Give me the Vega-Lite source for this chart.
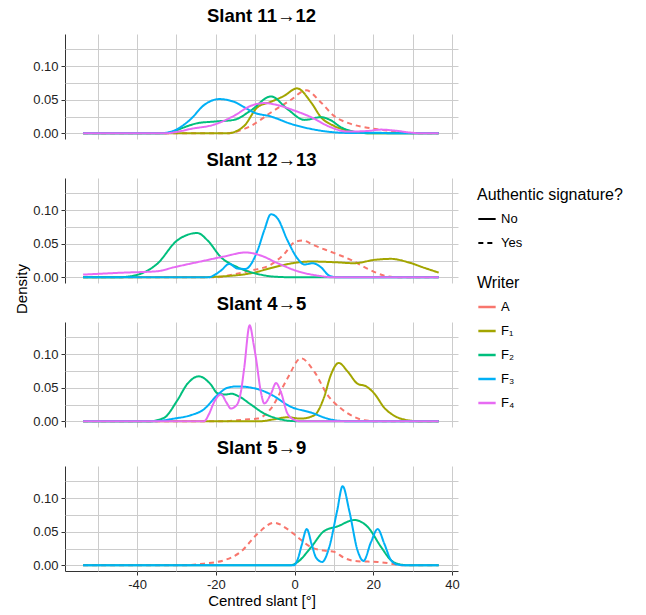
{
  "$schema": "https://vega.github.io/schema/vega-lite/v6.json",
  "padding": {"left": 14, "top": 6, "right": 5, "bottom": 2},
  "background": "white",
  "data": {"values": [
    {"panel":"Slant 11→12","writer":"A","auth":"Yes","slant":-53.7,"density":0},
    {"panel":"Slant 11→12","writer":"A","auth":"Yes","slant":-17,"density":0},
    {"panel":"Slant 11→12","writer":"A","auth":"Yes","slant":-14,"density":0.004},
    {"panel":"Slant 11→12","writer":"A","auth":"Yes","slant":-11.1,"density":0.011},
    {"panel":"Slant 11→12","writer":"A","auth":"Yes","slant":-6,"density":0.031},
    {"panel":"Slant 11→12","writer":"A","auth":"Yes","slant":-0.9,"density":0.05},
    {"panel":"Slant 11→12","writer":"A","auth":"Yes","slant":2.9,"density":0.064},
    {"panel":"Slant 11→12","writer":"A","auth":"Yes","slant":6.7,"density":0.046},
    {"panel":"Slant 11→12","writer":"A","auth":"Yes","slant":10,"density":0.026},
    {"panel":"Slant 11→12","writer":"A","auth":"Yes","slant":14.3,"density":0.014},
    {"panel":"Slant 11→12","writer":"A","auth":"Yes","slant":19.4,"density":0.0075},
    {"panel":"Slant 11→12","writer":"A","auth":"Yes","slant":23.7,"density":0.004},
    {"panel":"Slant 11→12","writer":"A","auth":"Yes","slant":28.8,"density":0.0005},
    {"panel":"Slant 11→12","writer":"A","auth":"Yes","slant":31,"density":0},
    {"panel":"Slant 11→12","writer":"A","auth":"Yes","slant":36.6,"density":0},

    {"panel":"Slant 11→12","writer":"F₁","auth":"No","slant":-53.7,"density":0},
    {"panel":"Slant 11→12","writer":"F₁","auth":"No","slant":-17,"density":0},
    {"panel":"Slant 11→12","writer":"F₁","auth":"No","slant":-14.5,"density":0.004},
    {"panel":"Slant 11→12","writer":"F₁","auth":"No","slant":-12.8,"density":0.011},
    {"panel":"Slant 11→12","writer":"F₁","auth":"No","slant":-9.4,"density":0.039},
    {"panel":"Slant 11→12","writer":"F₁","auth":"No","slant":-6,"density":0.047},
    {"panel":"Slant 11→12","writer":"F₁","auth":"No","slant":-2.6,"density":0.056},
    {"panel":"Slant 11→12","writer":"F₁","auth":"No","slant":0.6,"density":0.067},
    {"panel":"Slant 11→12","writer":"F₁","auth":"No","slant":4.2,"density":0.046},
    {"panel":"Slant 11→12","writer":"F₁","auth":"No","slant":6.7,"density":0.024},
    {"panel":"Slant 11→12","writer":"F₁","auth":"No","slant":10,"density":0.011},
    {"panel":"Slant 11→12","writer":"F₁","auth":"No","slant":13.5,"density":0.004},
    {"panel":"Slant 11→12","writer":"F₁","auth":"No","slant":17.7,"density":0.0005},
    {"panel":"Slant 11→12","writer":"F₁","auth":"No","slant":20,"density":0},
    {"panel":"Slant 11→12","writer":"F₁","auth":"No","slant":36.6,"density":0},

    {"panel":"Slant 11→12","writer":"F₂","auth":"No","slant":-53.7,"density":0},
    {"panel":"Slant 11→12","writer":"F₂","auth":"No","slant":-33,"density":0},
    {"panel":"Slant 11→12","writer":"F₂","auth":"No","slant":-30.6,"density":0.003},
    {"panel":"Slant 11→12","writer":"F₂","auth":"No","slant":-28,"density":0.009},
    {"panel":"Slant 11→12","writer":"F₂","auth":"No","slant":-24.7,"density":0.015},
    {"panel":"Slant 11→12","writer":"F₂","auth":"No","slant":-20.4,"density":0.0175},
    {"panel":"Slant 11→12","writer":"F₂","auth":"No","slant":-15.4,"density":0.02},
    {"panel":"Slant 11→12","writer":"F₂","auth":"No","slant":-11.1,"density":0.034},
    {"panel":"Slant 11→12","writer":"F₂","auth":"No","slant":-6,"density":0.055},
    {"panel":"Slant 11→12","writer":"F₂","auth":"No","slant":-1.8,"density":0.036},
    {"panel":"Slant 11→12","writer":"F₂","auth":"No","slant":2.5,"density":0.02},
    {"panel":"Slant 11→12","writer":"F₂","auth":"No","slant":6.7,"density":0.024},
    {"panel":"Slant 11→12","writer":"F₂","auth":"No","slant":9,"density":0.02},
    {"panel":"Slant 11→12","writer":"F₂","auth":"No","slant":11.8,"density":0.009},
    {"panel":"Slant 11→12","writer":"F₂","auth":"No","slant":16,"density":0.0015},
    {"panel":"Slant 11→12","writer":"F₂","auth":"No","slant":19,"density":0},
    {"panel":"Slant 11→12","writer":"F₂","auth":"No","slant":36.6,"density":0},

    {"panel":"Slant 11→12","writer":"F₃","auth":"No","slant":-53.7,"density":0},
    {"panel":"Slant 11→12","writer":"F₃","auth":"No","slant":-34,"density":0},
    {"panel":"Slant 11→12","writer":"F₃","auth":"No","slant":-30.6,"density":0.004},
    {"panel":"Slant 11→12","writer":"F₃","auth":"No","slant":-26.4,"density":0.021},
    {"panel":"Slant 11→12","writer":"F₃","auth":"No","slant":-23,"density":0.042},
    {"panel":"Slant 11→12","writer":"F₃","auth":"No","slant":-19.2,"density":0.051},
    {"panel":"Slant 11→12","writer":"F₃","auth":"No","slant":-15.4,"density":0.047},
    {"panel":"Slant 11→12","writer":"F₃","auth":"No","slant":-12.8,"density":0.039},
    {"panel":"Slant 11→12","writer":"F₃","auth":"No","slant":-10.3,"density":0.031},
    {"panel":"Slant 11→12","writer":"F₃","auth":"No","slant":-6,"density":0.025},
    {"panel":"Slant 11→12","writer":"F₃","auth":"No","slant":-0.9,"density":0.014},
    {"panel":"Slant 11→12","writer":"F₃","auth":"No","slant":4.2,"density":0.0065},
    {"panel":"Slant 11→12","writer":"F₃","auth":"No","slant":10,"density":0.0015},
    {"panel":"Slant 11→12","writer":"F₃","auth":"No","slant":14,"density":0.0005},
    {"panel":"Slant 11→12","writer":"F₃","auth":"No","slant":20,"density":0.001},
    {"panel":"Slant 11→12","writer":"F₃","auth":"No","slant":25,"density":0},
    {"panel":"Slant 11→12","writer":"F₃","auth":"No","slant":36.6,"density":0},

    {"panel":"Slant 11→12","writer":"F₄","auth":"No","slant":-53.7,"density":0},
    {"panel":"Slant 11→12","writer":"F₄","auth":"No","slant":-33,"density":0},
    {"panel":"Slant 11→12","writer":"F₄","auth":"No","slant":-30,"density":0.002},
    {"panel":"Slant 11→12","writer":"F₄","auth":"No","slant":-26.4,"density":0.0065},
    {"panel":"Slant 11→12","writer":"F₄","auth":"No","slant":-20.4,"density":0.013},
    {"panel":"Slant 11→12","writer":"F₄","auth":"No","slant":-15.4,"density":0.026},
    {"panel":"Slant 11→12","writer":"F₄","auth":"No","slant":-11.1,"density":0.041},
    {"panel":"Slant 11→12","writer":"F₄","auth":"No","slant":-7.7,"density":0.045},
    {"panel":"Slant 11→12","writer":"F₄","auth":"No","slant":-4.3,"density":0.042},
    {"panel":"Slant 11→12","writer":"F₄","auth":"No","slant":-0.1,"density":0.034},
    {"panel":"Slant 11→12","writer":"F₄","auth":"No","slant":4.2,"density":0.024},
    {"panel":"Slant 11→12","writer":"F₄","auth":"No","slant":9.2,"density":0.009},
    {"panel":"Slant 11→12","writer":"F₄","auth":"No","slant":13.5,"density":0.0025},
    {"panel":"Slant 11→12","writer":"F₄","auth":"No","slant":18.6,"density":0.0035},
    {"panel":"Slant 11→12","writer":"F₄","auth":"No","slant":22,"density":0.0055},
    {"panel":"Slant 11→12","writer":"F₄","auth":"No","slant":25.4,"density":0.004},
    {"panel":"Slant 11→12","writer":"F₄","auth":"No","slant":29.6,"density":0.001},
    {"panel":"Slant 11→12","writer":"F₄","auth":"No","slant":32,"density":0},
    {"panel":"Slant 11→12","writer":"F₄","auth":"No","slant":36.6,"density":0},

    {"panel":"Slant 12→13","writer":"A","auth":"Yes","slant":-53.7,"density":0},
    {"panel":"Slant 12→13","writer":"A","auth":"Yes","slant":-20,"density":0},
    {"panel":"Slant 12→13","writer":"A","auth":"Yes","slant":-16.2,"density":0.0035},
    {"panel":"Slant 12→13","writer":"A","auth":"Yes","slant":-11.1,"density":0.01},
    {"panel":"Slant 12→13","writer":"A","auth":"Yes","slant":-6,"density":0.019},
    {"panel":"Slant 12→13","writer":"A","auth":"Yes","slant":-2.6,"density":0.035},
    {"panel":"Slant 12→13","writer":"A","auth":"Yes","slant":0,"density":0.0525},
    {"panel":"Slant 12→13","writer":"A","auth":"Yes","slant":2,"density":0.055},
    {"panel":"Slant 12→13","writer":"A","auth":"Yes","slant":5,"density":0.0475},
    {"panel":"Slant 12→13","writer":"A","auth":"Yes","slant":10.1,"density":0.036},
    {"panel":"Slant 12→13","writer":"A","auth":"Yes","slant":14.3,"density":0.026},
    {"panel":"Slant 12→13","writer":"A","auth":"Yes","slant":18.6,"density":0.0125},
    {"panel":"Slant 12→13","writer":"A","auth":"Yes","slant":22.8,"density":0.0025},
    {"panel":"Slant 12→13","writer":"A","auth":"Yes","slant":26.2,"density":0},
    {"panel":"Slant 12→13","writer":"A","auth":"Yes","slant":36.6,"density":0},

    {"panel":"Slant 12→13","writer":"F₁","auth":"No","slant":-53.7,"density":0},
    {"panel":"Slant 12→13","writer":"F₁","auth":"No","slant":-25,"density":0},
    {"panel":"Slant 12→13","writer":"F₁","auth":"No","slant":-17.9,"density":0.0015},
    {"panel":"Slant 12→13","writer":"F₁","auth":"No","slant":-11.1,"density":0.006},
    {"panel":"Slant 12→13","writer":"F₁","auth":"No","slant":-5.2,"density":0.015},
    {"panel":"Slant 12→13","writer":"F₁","auth":"No","slant":0,"density":0.0215},
    {"panel":"Slant 12→13","writer":"F₁","auth":"No","slant":4.2,"density":0.0235},
    {"panel":"Slant 12→13","writer":"F₁","auth":"No","slant":10.1,"density":0.0225},
    {"panel":"Slant 12→13","writer":"F₁","auth":"No","slant":15.2,"density":0.021},
    {"panel":"Slant 12→13","writer":"F₁","auth":"No","slant":20.3,"density":0.026},
    {"panel":"Slant 12→13","writer":"F₁","auth":"No","slant":24.5,"density":0.0275},
    {"panel":"Slant 12→13","writer":"F₁","auth":"No","slant":28.8,"density":0.0225},
    {"panel":"Slant 12→13","writer":"F₁","auth":"No","slant":33,"density":0.014},
    {"panel":"Slant 12→13","writer":"F₁","auth":"No","slant":36.6,"density":0.007},

    {"panel":"Slant 12→13","writer":"F₂","auth":"No","slant":-53.7,"density":0},
    {"panel":"Slant 12→13","writer":"F₂","auth":"No","slant":-45,"density":0},
    {"panel":"Slant 12→13","writer":"F₂","auth":"No","slant":-40.8,"density":0.0025},
    {"panel":"Slant 12→13","writer":"F₂","auth":"No","slant":-34.9,"density":0.02},
    {"panel":"Slant 12→13","writer":"F₂","auth":"No","slant":-29.8,"density":0.055},
    {"panel":"Slant 12→13","writer":"F₂","auth":"No","slant":-24.7,"density":0.066},
    {"panel":"Slant 12→13","writer":"F₂","auth":"No","slant":-22.1,"density":0.055},
    {"panel":"Slant 12→13","writer":"F₂","auth":"No","slant":-18.7,"density":0.03},
    {"panel":"Slant 12→13","writer":"F₂","auth":"No","slant":-14.5,"density":0.015},
    {"panel":"Slant 12→13","writer":"F₂","auth":"No","slant":-9.4,"density":0.005},
    {"panel":"Slant 12→13","writer":"F₂","auth":"No","slant":-5.2,"density":0.001},
    {"panel":"Slant 12→13","writer":"F₂","auth":"No","slant":0,"density":0},
    {"panel":"Slant 12→13","writer":"F₂","auth":"No","slant":36.6,"density":0},

    {"panel":"Slant 12→13","writer":"F₃","auth":"No","slant":-53.7,"density":0},
    {"panel":"Slant 12→13","writer":"F₃","auth":"No","slant":-22,"density":0},
    {"panel":"Slant 12→13","writer":"F₃","auth":"No","slant":-18.7,"density":0.01},
    {"panel":"Slant 12→13","writer":"F₃","auth":"No","slant":-16.6,"density":0.02},
    {"panel":"Slant 12→13","writer":"F₃","auth":"No","slant":-14.5,"density":0.013},
    {"panel":"Slant 12→13","writer":"F₃","auth":"No","slant":-12.5,"density":0.0125},
    {"panel":"Slant 12→13","writer":"F₃","auth":"No","slant":-9.4,"density":0.04},
    {"panel":"Slant 12→13","writer":"F₃","auth":"No","slant":-7.7,"density":0.07},
    {"panel":"Slant 12→13","writer":"F₃","auth":"No","slant":-6,"density":0.094},
    {"panel":"Slant 12→13","writer":"F₃","auth":"No","slant":-4.3,"density":0.0875},
    {"panel":"Slant 12→13","writer":"F₃","auth":"No","slant":-1.8,"density":0.055},
    {"panel":"Slant 12→13","writer":"F₃","auth":"No","slant":0.8,"density":0.0275},
    {"panel":"Slant 12→13","writer":"F₃","auth":"No","slant":2.5,"density":0.019},
    {"panel":"Slant 12→13","writer":"F₃","auth":"No","slant":4.6,"density":0.021},
    {"panel":"Slant 12→13","writer":"F₃","auth":"No","slant":6.7,"density":0.015},
    {"panel":"Slant 12→13","writer":"F₃","auth":"No","slant":8.8,"density":0.0025},
    {"panel":"Slant 12→13","writer":"F₃","auth":"No","slant":10.9,"density":0},
    {"panel":"Slant 12→13","writer":"F₃","auth":"No","slant":36.6,"density":0},

    {"panel":"Slant 12→13","writer":"F₄","auth":"No","slant":-53.7,"density":0.004},
    {"panel":"Slant 12→13","writer":"F₄","auth":"No","slant":-43.3,"density":0.007},
    {"panel":"Slant 12→13","writer":"F₄","auth":"No","slant":-34.9,"density":0.009},
    {"panel":"Slant 12→13","writer":"F₄","auth":"No","slant":-30.6,"density":0.015},
    {"panel":"Slant 12→13","writer":"F₄","auth":"No","slant":-24.7,"density":0.0225},
    {"panel":"Slant 12→13","writer":"F₄","auth":"No","slant":-17.9,"density":0.031},
    {"panel":"Slant 12→13","writer":"F₄","auth":"No","slant":-12.4,"density":0.037},
    {"panel":"Slant 12→13","writer":"F₄","auth":"No","slant":-8.6,"density":0.0325},
    {"panel":"Slant 12→13","writer":"F₄","auth":"No","slant":-4.3,"density":0.021},
    {"panel":"Slant 12→13","writer":"F₄","auth":"No","slant":0.8,"density":0.009},
    {"panel":"Slant 12→13","writer":"F₄","auth":"No","slant":5.9,"density":0.0025},
    {"panel":"Slant 12→13","writer":"F₄","auth":"No","slant":10,"density":0},
    {"panel":"Slant 12→13","writer":"F₄","auth":"No","slant":36.6,"density":0},

    {"panel":"Slant 4→5","writer":"A","auth":"Yes","slant":-53.7,"density":0},
    {"panel":"Slant 4→5","writer":"A","auth":"Yes","slant":-18,"density":0},
    {"panel":"Slant 4→5","writer":"A","auth":"Yes","slant":-12.8,"density":0.0025},
    {"panel":"Slant 4→5","writer":"A","auth":"Yes","slant":-9.4,"density":0.004},
    {"panel":"Slant 4→5","writer":"A","auth":"Yes","slant":-6,"density":0.019},
    {"panel":"Slant 4→5","writer":"A","auth":"Yes","slant":-1.8,"density":0.064},
    {"panel":"Slant 4→5","writer":"A","auth":"Yes","slant":1.6,"density":0.094},
    {"panel":"Slant 4→5","writer":"A","auth":"Yes","slant":5,"density":0.074},
    {"panel":"Slant 4→5","writer":"A","auth":"Yes","slant":8.4,"density":0.039},
    {"panel":"Slant 4→5","writer":"A","auth":"Yes","slant":11.8,"density":0.019},
    {"panel":"Slant 4→5","writer":"A","auth":"Yes","slant":15.2,"density":0.0065},
    {"panel":"Slant 4→5","writer":"A","auth":"Yes","slant":17.7,"density":0.0015},
    {"panel":"Slant 4→5","writer":"A","auth":"Yes","slant":21,"density":0},
    {"panel":"Slant 4→5","writer":"A","auth":"Yes","slant":36.6,"density":0},

    {"panel":"Slant 4→5","writer":"F₁","auth":"No","slant":-53.7,"density":0},
    {"panel":"Slant 4→5","writer":"F₁","auth":"No","slant":-9,"density":0},
    {"panel":"Slant 4→5","writer":"F₁","auth":"No","slant":-5.2,"density":0.003},
    {"panel":"Slant 4→5","writer":"F₁","auth":"No","slant":-1.8,"density":0.006},
    {"panel":"Slant 4→5","writer":"F₁","auth":"No","slant":1.6,"density":0.004},
    {"panel":"Slant 4→5","writer":"F₁","auth":"No","slant":5,"density":0.009},
    {"panel":"Slant 4→5","writer":"F₁","auth":"No","slant":7.5,"density":0.036},
    {"panel":"Slant 4→5","writer":"F₁","auth":"No","slant":9.2,"density":0.069},
    {"panel":"Slant 4→5","writer":"F₁","auth":"No","slant":11.2,"density":0.087},
    {"panel":"Slant 4→5","writer":"F₁","auth":"No","slant":13.5,"density":0.074},
    {"panel":"Slant 4→5","writer":"F₁","auth":"No","slant":16,"density":0.056},
    {"panel":"Slant 4→5","writer":"F₁","auth":"No","slant":18.2,"density":0.052},
    {"panel":"Slant 4→5","writer":"F₁","auth":"No","slant":20.3,"density":0.041},
    {"panel":"Slant 4→5","writer":"F₁","auth":"No","slant":22.8,"density":0.02},
    {"panel":"Slant 4→5","writer":"F₁","auth":"No","slant":25.4,"density":0.008},
    {"panel":"Slant 4→5","writer":"F₁","auth":"No","slant":28.8,"density":0.0015},
    {"panel":"Slant 4→5","writer":"F₁","auth":"No","slant":32,"density":0},
    {"panel":"Slant 4→5","writer":"F₁","auth":"No","slant":36.6,"density":0},

    {"panel":"Slant 4→5","writer":"F₂","auth":"No","slant":-53.7,"density":0},
    {"panel":"Slant 4→5","writer":"F₂","auth":"No","slant":-37,"density":0},
    {"panel":"Slant 4→5","writer":"F₂","auth":"No","slant":-33.2,"density":0.005},
    {"panel":"Slant 4→5","writer":"F₂","auth":"No","slant":-29.8,"density":0.031},
    {"panel":"Slant 4→5","writer":"F₂","auth":"No","slant":-27.2,"density":0.056},
    {"panel":"Slant 4→5","writer":"F₂","auth":"No","slant":-24.3,"density":0.067},
    {"panel":"Slant 4→5","writer":"F₂","auth":"No","slant":-21.3,"density":0.055},
    {"panel":"Slant 4→5","writer":"F₂","auth":"No","slant":-19.6,"density":0.042},
    {"panel":"Slant 4→5","writer":"F₂","auth":"No","slant":-17.5,"density":0.04},
    {"panel":"Slant 4→5","writer":"F₂","auth":"No","slant":-16,"density":0.041},
    {"panel":"Slant 4→5","writer":"F₂","auth":"No","slant":-14.1,"density":0.037},
    {"panel":"Slant 4→5","writer":"F₂","auth":"No","slant":-11.1,"density":0.025},
    {"panel":"Slant 4→5","writer":"F₂","auth":"No","slant":-7.7,"density":0.0115},
    {"panel":"Slant 4→5","writer":"F₂","auth":"No","slant":-4.3,"density":0.004},
    {"panel":"Slant 4→5","writer":"F₂","auth":"No","slant":-0.9,"density":0.0005},
    {"panel":"Slant 4→5","writer":"F₂","auth":"No","slant":2,"density":0},
    {"panel":"Slant 4→5","writer":"F₂","auth":"No","slant":36.6,"density":0},

    {"panel":"Slant 4→5","writer":"F₃","auth":"No","slant":-53.7,"density":0},
    {"panel":"Slant 4→5","writer":"F₃","auth":"No","slant":-36,"density":0},
    {"panel":"Slant 4→5","writer":"F₃","auth":"No","slant":-30.6,"density":0.004},
    {"panel":"Slant 4→5","writer":"F₃","auth":"No","slant":-26.4,"density":0.009},
    {"panel":"Slant 4→5","writer":"F₃","auth":"No","slant":-23,"density":0.018},
    {"panel":"Slant 4→5","writer":"F₃","auth":"No","slant":-19.6,"density":0.039},
    {"panel":"Slant 4→5","writer":"F₃","auth":"No","slant":-17,"density":0.05},
    {"panel":"Slant 4→5","writer":"F₃","auth":"No","slant":-14.5,"density":0.052},
    {"panel":"Slant 4→5","writer":"F₃","auth":"No","slant":-9.4,"density":0.048},
    {"panel":"Slant 4→5","writer":"F₃","auth":"No","slant":-6,"density":0.04},
    {"panel":"Slant 4→5","writer":"F₃","auth":"No","slant":-0.9,"density":0.0215},
    {"panel":"Slant 4→5","writer":"F₃","auth":"No","slant":4.2,"density":0.013},
    {"panel":"Slant 4→5","writer":"F₃","auth":"No","slant":8.4,"density":0.004},
    {"panel":"Slant 4→5","writer":"F₃","auth":"No","slant":11.8,"density":0.0005},
    {"panel":"Slant 4→5","writer":"F₃","auth":"No","slant":15,"density":0},
    {"panel":"Slant 4→5","writer":"F₃","auth":"No","slant":36.6,"density":0},

    {"panel":"Slant 4→5","writer":"F₄","auth":"No","slant":-53.7,"density":0},
    {"panel":"Slant 4→5","writer":"F₄","auth":"No","slant":-23,"density":0},
    {"panel":"Slant 4→5","writer":"F₄","auth":"No","slant":-21.8,"density":0.01},
    {"panel":"Slant 4→5","writer":"F₄","auth":"No","slant":-20.4,"density":0.029},
    {"panel":"Slant 4→5","writer":"F₄","auth":"No","slant":-18.7,"density":0.04},
    {"panel":"Slant 4→5","writer":"F₄","auth":"No","slant":-17.2,"density":0.027},
    {"panel":"Slant 4→5","writer":"F₄","auth":"No","slant":-16.2,"density":0.019},
    {"panel":"Slant 4→5","writer":"F₄","auth":"No","slant":-14.6,"density":0.025},
    {"panel":"Slant 4→5","writer":"F₄","auth":"No","slant":-13.6,"density":0.045},
    {"panel":"Slant 4→5","writer":"F₄","auth":"No","slant":-12.8,"density":0.079},
    {"panel":"Slant 4→5","writer":"F₄","auth":"No","slant":-11.4,"density":0.143},
    {"panel":"Slant 4→5","writer":"F₄","auth":"No","slant":-10.4,"density":0.115},
    {"panel":"Slant 4→5","writer":"F₄","auth":"No","slant":-9.8,"density":0.094},
    {"panel":"Slant 4→5","writer":"F₄","auth":"No","slant":-8.6,"density":0.045},
    {"panel":"Slant 4→5","writer":"F₄","auth":"No","slant":-7.7,"density":0.0265},
    {"panel":"Slant 4→5","writer":"F₄","auth":"No","slant":-6,"density":0.041},
    {"panel":"Slant 4→5","writer":"F₄","auth":"No","slant":-4.7,"density":0.057},
    {"panel":"Slant 4→5","writer":"F₄","auth":"No","slant":-3.5,"density":0.044},
    {"panel":"Slant 4→5","writer":"F₄","auth":"No","slant":-1.8,"density":0.0115},
    {"panel":"Slant 4→5","writer":"F₄","auth":"No","slant":0,"density":0.002},
    {"panel":"Slant 4→5","writer":"F₄","auth":"No","slant":1.5,"density":0},
    {"panel":"Slant 4→5","writer":"F₄","auth":"No","slant":36.6,"density":0},

    {"panel":"Slant 5→9","writer":"A","auth":"Yes","slant":-53.7,"density":0},
    {"panel":"Slant 5→9","writer":"A","auth":"Yes","slant":-28,"density":0},
    {"panel":"Slant 5→9","writer":"A","auth":"Yes","slant":-23,"density":0.0025},
    {"panel":"Slant 5→9","writer":"A","auth":"Yes","slant":-17.9,"density":0.0075},
    {"panel":"Slant 5→9","writer":"A","auth":"Yes","slant":-13.7,"density":0.02},
    {"panel":"Slant 5→9","writer":"A","auth":"Yes","slant":-9.4,"density":0.047},
    {"panel":"Slant 5→9","writer":"A","auth":"Yes","slant":-5.2,"density":0.0635},
    {"panel":"Slant 5→9","writer":"A","auth":"Yes","slant":-1.8,"density":0.054},
    {"panel":"Slant 5→9","writer":"A","auth":"Yes","slant":0.8,"density":0.042},
    {"panel":"Slant 5→9","writer":"A","auth":"Yes","slant":4.2,"density":0.027},
    {"panel":"Slant 5→9","writer":"A","auth":"Yes","slant":7.5,"density":0.022},
    {"panel":"Slant 5→9","writer":"A","auth":"Yes","slant":10.1,"density":0.02},
    {"panel":"Slant 5→9","writer":"A","auth":"Yes","slant":12.6,"density":0.011},
    {"panel":"Slant 5→9","writer":"A","auth":"Yes","slant":16,"density":0.006},
    {"panel":"Slant 5→9","writer":"A","auth":"Yes","slant":21.1,"density":0.005},
    {"panel":"Slant 5→9","writer":"A","auth":"Yes","slant":24.5,"density":0.0025},
    {"panel":"Slant 5→9","writer":"A","auth":"Yes","slant":27,"density":0},
    {"panel":"Slant 5→9","writer":"A","auth":"Yes","slant":36.6,"density":0},

    {"panel":"Slant 5→9","writer":"F₂","auth":"No","slant":-53.7,"density":0},
    {"panel":"Slant 5→9","writer":"F₂","auth":"No","slant":-1,"density":0},
    {"panel":"Slant 5→9","writer":"F₂","auth":"No","slant":0.8,"density":0.005},
    {"panel":"Slant 5→9","writer":"F₂","auth":"No","slant":4.2,"density":0.027},
    {"panel":"Slant 5→9","writer":"F₂","auth":"No","slant":7.5,"density":0.051},
    {"panel":"Slant 5→9","writer":"F₂","auth":"No","slant":10.9,"density":0.058},
    {"panel":"Slant 5→9","writer":"F₂","auth":"No","slant":15.2,"density":0.0675},
    {"panel":"Slant 5→9","writer":"F₂","auth":"No","slant":18.6,"density":0.057},
    {"panel":"Slant 5→9","writer":"F₂","auth":"No","slant":22,"density":0.027},
    {"panel":"Slant 5→9","writer":"F₂","auth":"No","slant":24.5,"density":0.0075},
    {"panel":"Slant 5→9","writer":"F₂","auth":"No","slant":27,"density":0.001},
    {"panel":"Slant 5→9","writer":"F₂","auth":"No","slant":29,"density":0},
    {"panel":"Slant 5→9","writer":"F₂","auth":"No","slant":36.6,"density":0},

    {"panel":"Slant 5→9","writer":"F₃","auth":"No","slant":-53.7,"density":0},
    {"panel":"Slant 5→9","writer":"F₃","auth":"No","slant":-0.2,"density":0},
    {"panel":"Slant 5→9","writer":"F₃","auth":"No","slant":0.8,"density":0.009},
    {"panel":"Slant 5→9","writer":"F₃","auth":"No","slant":1.8,"density":0.03},
    {"panel":"Slant 5→9","writer":"F₃","auth":"No","slant":3.1,"density":0.054},
    {"panel":"Slant 5→9","writer":"F₃","auth":"No","slant":4.4,"density":0.03},
    {"panel":"Slant 5→9","writer":"F₃","auth":"No","slant":5.5,"density":0.011},
    {"panel":"Slant 5→9","writer":"F₃","auth":"No","slant":7,"density":0.005},
    {"panel":"Slant 5→9","writer":"F₃","auth":"No","slant":8.8,"density":0.027},
    {"panel":"Slant 5→9","writer":"F₃","auth":"No","slant":10.8,"density":0.081},
    {"panel":"Slant 5→9","writer":"F₃","auth":"No","slant":12.2,"density":0.118},
    {"panel":"Slant 5→9","writer":"F₃","auth":"No","slant":13.9,"density":0.081},
    {"panel":"Slant 5→9","writer":"F₃","auth":"No","slant":16,"density":0.022},
    {"panel":"Slant 5→9","writer":"F₃","auth":"No","slant":17.5,"density":0.0065},
    {"panel":"Slant 5→9","writer":"F₃","auth":"No","slant":19.4,"density":0.0345},
    {"panel":"Slant 5→9","writer":"F₃","auth":"No","slant":21.1,"density":0.054},
    {"panel":"Slant 5→9","writer":"F₃","auth":"No","slant":22.8,"density":0.032},
    {"panel":"Slant 5→9","writer":"F₃","auth":"No","slant":24.5,"density":0.0075},
    {"panel":"Slant 5→9","writer":"F₃","auth":"No","slant":26.2,"density":0.001},
    {"panel":"Slant 5→9","writer":"F₃","auth":"No","slant":28,"density":0},
    {"panel":"Slant 5→9","writer":"F₃","auth":"No","slant":36.6,"density":0}
  ]},
  "facet": {
    "row": {
      "field": "panel",
      "type": "nominal",
      "sort": ["Slant 11→12", "Slant 12→13", "Slant 4→5", "Slant 5→9"],
      "header": {
        "title": "Density",
        "titleOrient": "left",
        "titleFont": "Liberation Sans",
        "titleFontSize": 15,
        "titleFontWeight": "normal",
        "titleColor": "black",
        "titlePadding": -8,
        "labelOrient": "top",
        "labelAngle": 0,
        "labelAnchor": "middle",
        "labelFont": "Liberation Sans",
        "labelFontSize": 18.5,
        "labelFontWeight": "bold",
        "labelColor": "black",
        "labelPadding": -10
      }
    }
  },
  "spacing": {"row": 11},
  "spec": {
    "width": 393,
    "height": 105,
    "mark": {"type": "line", "interpolate": "monotone", "strokeWidth": 2, "clip": true},
    "encoding": {
      "x": {
        "field": "slant",
        "type": "quantitative",
        "scale": {"domain": [-58.3, 41.5], "nice": false, "zero": false},
        "axis": {
          "title": "Centred slant [°]",
          "values": [-50, -40, -30, -20, -10, 0, 10, 20, 30, 40],
          "labelExpr": "datum.value % 20 == 0 ? '' + datum.value : ''",
          "tickOpacity": {"condition": {"test": "datum.value % 20 == 0", "value": 1}, "value": 0}
        }
      },
      "y": {
        "field": "density",
        "type": "quantitative",
        "scale": {"domain": [-0.0085, 0.148], "nice": false, "zero": false},
        "axis": {
          "title": null,
          "values": [0, 0.025, 0.05, 0.075, 0.1, 0.125],
          "labelExpr": "abs(datum.value*20 - round(datum.value*20)) < 0.001 ? format(datum.value, '.2f') : ''",
          "tickOpacity": {"condition": {"test": "abs(datum.value*20 - round(datum.value*20)) < 0.001", "value": 1}, "value": 0}
        }
      },
      "color": {
        "field": "writer",
        "type": "nominal",
        "scale": {"domain": ["A", "F₁", "F₂", "F₃", "F₄"], "range": ["#F8766D", "#A3A500", "#00BF7D", "#00B0F6", "#E76BF3"]},
        "legend": {"title": "Writer", "orient": "none", "legendX": 412, "legendY": 241, "symbolType": "stroke", "symbolStrokeWidth": 2.5, "symbolSize": 300}
      },
      "strokeDash": {
        "field": "auth",
        "type": "nominal",
        "scale": {"domain": ["No", "Yes"], "range": [[1, 0], [5, 4]]},
        "legend": {"title": "Authentic signature?", "orient": "none", "legendX": 412, "legendY": 153, "symbolStrokeColor": "black", "symbolType": "stroke", "symbolStrokeWidth": 2, "symbolSize": 300}
      }
    }
  },
  "config": {
    "font": "Liberation Sans",
    "view": {"stroke": null},
    "axis": {
      "labelFont": "Liberation Sans",
      "labelFontSize": 13,
      "labelColor": "#222",
      "titleFont": "Liberation Sans",
      "titleFontSize": 15,
      "titleFontWeight": "normal",
      "titleColor": "black",
      "gridColor": "#cccccc",
      "gridWidth": 1,
      "domainColor": "#333",
      "tickColor": "#333",
      "tickSize": 4,
      "labelPadding": 3
    },
    "axisX": {"domain": true, "titlePadding": 2},
    "axisY": {"domain": true},
    "legend": {
      "titleFont": "Liberation Sans",
      "titleFontSize": 16,
      "titleFontWeight": "normal",
      "titleColor": "black",
      "labelFont": "Liberation Sans",
      "labelFontSize": 13,
      "labelColor": "black",
      "rowPadding": 7,
      "titlePadding": 6
    }
  }
}
